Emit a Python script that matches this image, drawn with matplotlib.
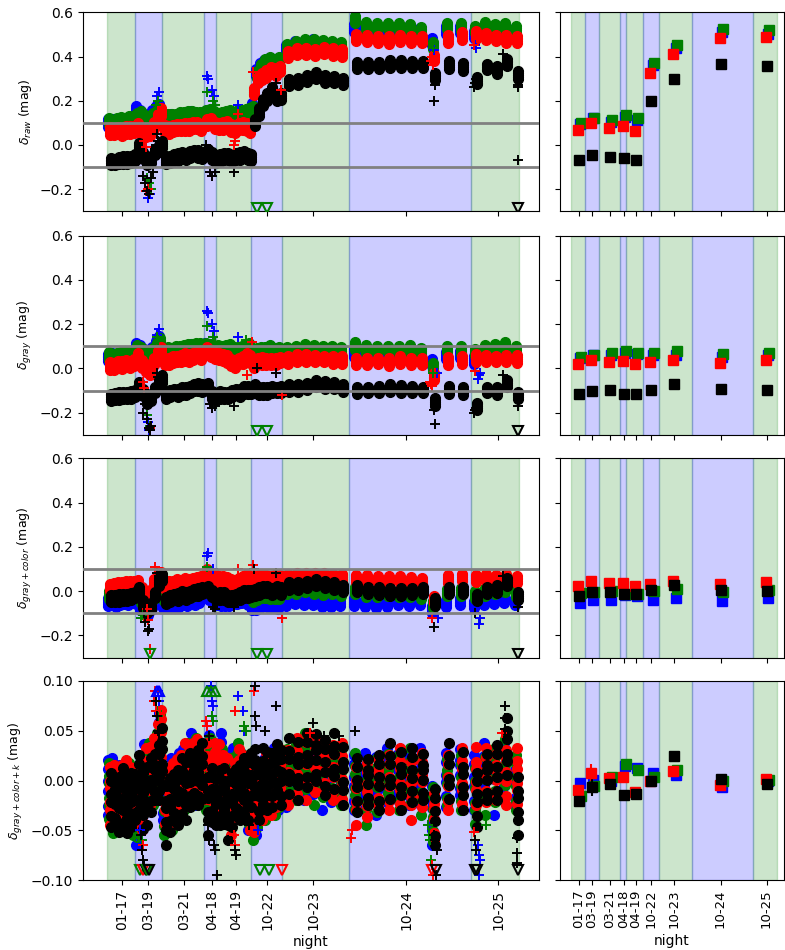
import matplotlib
matplotlib.use('Agg')
import matplotlib.pyplot as plt

# ---------------- nights / layout in "time" units ----------------
NIGHTS = ['01-17', '03-19', '03-21', '04-18', '04-19', '10-22', '10-23', '10-24', '10-25']
NIGHT_EDGES = [0, 28, 55, 97, 109, 144, 175, 242, 364, 412]
NIGHT_TICKS = [15, 41, 77, 105, 129, 160, 206, 299, 391]
NIGHT_SHADE = ['g', 'b', 'g', 'b', 'g', 'b', 'g', 'b', 'g']

# exposure times (per night: 7, 7, 10, 3, 9, 7, 7, 10, 5)
EXP_X = [2, 6, 10, 14, 18, 22, 26,
         30, 34, 38, 42, 46, 50, 53,
         57, 61, 65, 69, 73, 77, 81, 85, 89, 93,
         99, 103, 107,
         111, 115, 119, 123, 127, 131, 135, 139, 142,
         146, 150, 154, 158, 163, 168, 172,
         180, 189, 198, 207, 216, 225, 234,
         248, 259, 270, 281, 292, 303, 314, 326, 340, 354,
         368, 378, 388, 398, 409]

# residual patterns of the calibration stars within one exposure (mag)
STAR_RESID_TOP = [[-0.018, -0.009, 0.000, 0.008, 0.017],
                  [-0.015, -0.006, 0.003, 0.011, 0.019],
                  [-0.020, -0.011, -0.002, 0.006, 0.014],
                  [-0.016, -0.008, 0.001, 0.009, 0.016],
                  [-0.012, -0.005, 0.002, 0.010, 0.018]]
STAR_RESID_K = [[-0.030, -0.021, -0.006, 0.004, 0.017, 0.026],
                [-0.024, -0.010, -0.003, 0.012, 0.020, 0.033],
                [-0.035, -0.020, -0.012, 0.002, 0.009, 0.024],
                [-0.027, -0.016, -0.002, 0.006, 0.019, 0.028],
                [-0.020, -0.013, 0.001, 0.011, 0.016, 0.027]]

# ---------------- delta_raw ----------------
RAW_B = [0.100, 0.100, 0.095, 0.100, 0.100, 0.105, 0.110,
         0.160, 0.140, 0.120, 0.110, 0.140, 0.160, 0.170,
         0.115, 0.115, 0.120, 0.120, 0.125, 0.125, 0.130, 0.135, 0.130, 0.125,
         0.135, 0.140, 0.130,
         0.125, 0.125, 0.130, 0.135, 0.130, 0.135, 0.135, 0.140, 0.145,
         0.170, 0.330, 0.355, 0.365, 0.375, 0.370, 0.375,
         0.435, 0.450, 0.455, 0.460, 0.455, 0.445, 0.445,
         0.530, 0.525, 0.520, 0.520, 0.520, 0.520, 0.510, 0.470, 0.520, 0.520,
         0.500, 0.520, 0.520, 0.525, 0.510]
RAW_G = [0.105, 0.100, 0.105, 0.110, 0.105, 0.110, 0.115,
         0.130, 0.135, 0.120, 0.110, 0.130, 0.140, 0.150,
         0.120, 0.120, 0.125, 0.125, 0.130, 0.130, 0.135, 0.140, 0.135, 0.130,
         0.140, 0.145, 0.140,
         0.130, 0.130, 0.135, 0.140, 0.135, 0.140, 0.140, 0.145, 0.150,
         0.160, 0.320, 0.350, 0.370, 0.380, 0.375, 0.380,
         0.440, 0.455, 0.460, 0.465, 0.460, 0.450, 0.450,
         0.565, 0.540, 0.535, 0.535, 0.535, 0.530, 0.520, 0.450, 0.535, 0.535,
         0.520, 0.540, 0.530, 0.535, 0.520]
RAW_R = [0.065, 0.060, 0.065, 0.060, 0.065, 0.070, 0.070,
         0.080, 0.060, 0.050, 0.060, 0.090, 0.120, 0.150,
         0.070, 0.070, 0.075, 0.075, 0.080, 0.080, 0.085, 0.090, 0.085, 0.080,
         0.100, 0.110, 0.090,
         0.080, 0.085, 0.090, 0.080, 0.070, 0.080, 0.085, 0.080, 0.075,
         0.240, 0.290, 0.310, 0.320, 0.340, 0.330, 0.340,
         0.410, 0.420, 0.425, 0.420, 0.425, 0.420, 0.415,
         0.490, 0.480, 0.475, 0.475, 0.480, 0.480, 0.475, 0.390, 0.480, 0.490,
         0.500, 0.490, 0.480, 0.480, 0.475]
RAW_K = [-0.075, -0.080, -0.070, -0.070, -0.065, -0.065, -0.060,
         -0.010, -0.050, -0.070, -0.065, -0.035, -0.015, 0.000,
         -0.065, -0.065, -0.060, -0.055, -0.050, -0.050, -0.045, -0.040, -0.040, -0.050,
         -0.030, -0.050, -0.070,
         -0.060, -0.055, -0.050, -0.060, -0.055, -0.050, -0.045, -0.050, -0.055,
         0.100, 0.150, 0.190, 0.220, 0.245, 0.210, 0.220,
         0.280, 0.290, 0.300, 0.310, 0.300, 0.295, 0.290,
         0.360, 0.355, 0.360, 0.365, 0.370, 0.365, 0.360, 0.310, 0.360, 0.355,
         0.290, 0.350, 0.340, 0.370, 0.320]

# ---------------- delta_gray ----------------
GRAY_B = [0.050, 0.050, 0.050, 0.055, 0.055, 0.055, 0.060,
          0.100, 0.090, 0.070, 0.050, 0.080, 0.110, 0.130,
          0.070, 0.075, 0.075, 0.080, 0.080, 0.085, 0.085, 0.090, 0.095, 0.090,
          0.095, 0.090, 0.075,
          0.085, 0.080, 0.085, 0.085, 0.080, 0.075, 0.080, 0.085, 0.090,
          0.055, 0.060, 0.065, 0.065, 0.070, 0.065, 0.065,
          0.060, 0.065, 0.065, 0.065, 0.060, 0.060, 0.060,
          0.070, 0.065, 0.060, 0.060, 0.060, 0.060, 0.055, 0.030, 0.060, 0.060,
          0.040, 0.070, 0.075, 0.080, 0.070]
GRAY_G = [0.055, 0.050, 0.055, 0.055, 0.060, 0.060, 0.065,
          0.090, 0.080, 0.060, 0.050, 0.080, 0.100, 0.120,
          0.075, 0.080, 0.080, 0.085, 0.085, 0.090, 0.090, 0.095, 0.100, 0.095,
          0.100, 0.090, 0.080,
          0.090, 0.085, 0.090, 0.090, 0.085, 0.080, 0.085, 0.090, 0.095,
          0.060, 0.075, 0.080, 0.080, 0.085, 0.080, 0.080,
          0.080, 0.085, 0.090, 0.090, 0.085, 0.085, 0.080,
          0.100, 0.090, 0.085, 0.085, 0.085, 0.085, 0.080, 0.010, 0.085, 0.085,
          0.070, 0.090, 0.095, 0.100, 0.085]
GRAY_R = [0.015, 0.010, 0.015, 0.015, 0.020, 0.020, 0.025,
          0.050, 0.020, 0.000, -0.010, 0.030, 0.060, 0.080,
          0.030, 0.035, 0.040, 0.040, 0.045, 0.050, 0.050, 0.055, 0.060, 0.055,
          0.080, 0.070, 0.060,
          0.050, 0.050, 0.040, 0.030, 0.020, 0.030, 0.040, 0.050, 0.045,
          0.020, 0.030, 0.035, 0.030, 0.035, 0.030, 0.035,
          0.040, 0.045, 0.050, 0.045, 0.040, 0.040, 0.035,
          0.035, 0.030, 0.030, 0.030, 0.035, 0.035, 0.030, -0.040, 0.035, 0.035,
          0.050, 0.045, 0.040, 0.045, 0.040]
GRAY_K = [-0.130, -0.130, -0.125, -0.125, -0.120, -0.120, -0.115,
          -0.080, -0.110, -0.140, -0.130, -0.100, -0.070, -0.050,
          -0.120, -0.115, -0.110, -0.110, -0.105, -0.100, -0.095, -0.090, -0.085, -0.090,
          -0.080, -0.120, -0.130,
          -0.120, -0.125, -0.120, -0.115, -0.110, -0.110, -0.100, -0.095, -0.100,
          -0.090, -0.100, -0.105, -0.100, -0.095, -0.100, -0.095,
          -0.090, -0.085, -0.080, -0.070, -0.075, -0.080, -0.085,
          -0.100, -0.100, -0.095, -0.090, -0.090, -0.095, -0.100, -0.150, -0.100, -0.100,
          -0.170, -0.100, -0.100, -0.070, -0.120]

# ---------------- delta_gray+color ----------------
COL_B = [-0.050, -0.050, -0.050, -0.045, -0.045, -0.045, -0.040,
         -0.040, -0.070, -0.080, -0.090, -0.060, -0.030, -0.020,
         -0.065, -0.060, -0.060, -0.055, -0.055, -0.050, -0.050, -0.045, -0.045, -0.040,
         0.000, -0.020, -0.030,
         -0.045, -0.050, -0.055, -0.050, -0.045, -0.040, -0.040, -0.040, -0.045,
         -0.070, -0.065, -0.060, -0.055, -0.060, -0.055, -0.060,
         -0.050, -0.045, -0.045, -0.050, -0.050, -0.055, -0.055,
         -0.050, -0.055, -0.055, -0.055, -0.050, -0.050, -0.050, -0.080, -0.055, -0.050,
         -0.060, -0.050, -0.040, -0.040, -0.050]
COL_G = [-0.020, -0.020, -0.015, -0.015, -0.010, -0.010, -0.010,
         0.000, -0.040, -0.070, -0.060, -0.020, 0.030, 0.050,
         -0.025, -0.020, -0.020, -0.015, -0.015, -0.010, -0.010, -0.005, -0.005, 0.000,
         0.020, 0.000, -0.010,
         -0.010, -0.015, -0.020, -0.025, -0.020, -0.015, -0.010, -0.005, -0.010,
         -0.030, -0.025, -0.020, -0.015, -0.020, -0.015, -0.020,
         0.000, 0.005, 0.010, 0.005, 0.000, 0.000, -0.005,
         0.000, -0.005, -0.010, -0.010, -0.010, -0.010, -0.015, -0.060, -0.010, -0.005,
         -0.020, 0.000, 0.005, 0.010, -0.010]
COL_R = [0.020, 0.020, 0.025, 0.025, 0.025, 0.030, 0.030,
         0.030, 0.000, -0.020, -0.010, 0.040, 0.060, 0.070,
         0.025, 0.030, 0.030, 0.035, 0.035, 0.040, 0.040, 0.045, 0.045, 0.050,
         0.080, 0.070, 0.060,
         0.050, 0.050, 0.045, 0.040, 0.035, 0.040, 0.050, 0.060, 0.055,
         0.050, 0.055, 0.060, 0.055, 0.055, 0.060, 0.055,
         0.060, 0.065, 0.070, 0.065, 0.065, 0.060, 0.060,
         0.060, 0.055, 0.050, 0.050, 0.050, 0.050, 0.045, -0.040, 0.055, 0.060,
         0.060, 0.060, 0.055, 0.060, 0.050]
COL_K = [-0.035, -0.035, -0.030, -0.030, -0.025, -0.025, -0.020,
         0.000, -0.060, -0.080, -0.070, -0.020, 0.040, 0.060,
         -0.040, -0.035, -0.030, -0.025, -0.020, -0.020, -0.015, -0.010, -0.005, 0.000,
         0.010, -0.010, -0.030,
         -0.020, -0.025, -0.030, -0.035, -0.030, -0.020, -0.015, -0.010, -0.010,
         -0.010, 0.000, 0.005, 0.010, 0.000, 0.005, 0.000,
         0.020, 0.025, 0.030, 0.035, 0.030, 0.020, 0.015,
         0.010, 0.000, 0.000, -0.005, 0.000, 0.000, 0.000, -0.050, 0.000, 0.005,
         -0.030, 0.000, 0.010, 0.040, -0.020]

# ---------------- delta_gray+color+k ----------------
K_B = [-0.005, -0.010, -0.008, -0.012, -0.010, -0.015, -0.020,
       -0.030, -0.020, 0.010, 0.000, 0.005, 0.020, 0.040,
       -0.020, -0.015, -0.010, -0.005, 0.000, 0.005, 0.010, 0.015, 0.010, 0.005,
       0.010, 0.020, 0.000,
       0.010, 0.020, 0.000, -0.010, 0.000, 0.010, 0.000, -0.010, -0.020,
       -0.020, -0.020, -0.010, -0.005, 0.000, 0.000, 0.005,
       0.000, 0.005, 0.010, 0.010, 0.005, 0.005, 0.000,
       0.000, -0.005, 0.000, 0.005, 0.000, 0.005, 0.000, -0.030, 0.000, 0.005,
       0.000, 0.005, 0.000, 0.010, -0.005]
K_G = [-0.015, -0.018, -0.020, -0.020, -0.018, -0.015, -0.020,
       -0.030, -0.010, 0.000, 0.005, 0.010, 0.020, 0.040,
       -0.025, -0.020, -0.015, -0.010, -0.005, 0.000, 0.005, 0.010, 0.015, 0.010,
       0.000, 0.010, -0.005,
       0.000, 0.005, -0.005, -0.010, 0.000, 0.010, 0.000, -0.010, -0.020,
       -0.025, -0.020, -0.015, -0.010, -0.005, 0.000, 0.000,
       0.005, 0.010, 0.015, 0.010, 0.010, 0.005, 0.005,
       -0.005, -0.010, -0.005, 0.000, 0.000, 0.000, 0.000, -0.035, -0.005, 0.000,
       -0.020, 0.000, 0.005, 0.015, 0.000]
K_R = [-0.010, -0.012, -0.015, -0.010, -0.012, -0.010, -0.015,
       -0.025, -0.020, 0.000, 0.010, 0.015, 0.030, 0.045,
       -0.020, -0.015, -0.010, -0.005, 0.000, 0.005, 0.010, 0.010, 0.015, 0.010,
       0.005, 0.000, 0.010,
       0.010, 0.000, -0.010, -0.020, -0.010, 0.005, 0.000, -0.010, -0.015,
       -0.025, -0.020, -0.010, -0.005, 0.000, 0.000, 0.005,
       0.005, 0.010, 0.015, 0.015, 0.010, 0.010, 0.005,
       -0.010, -0.010, -0.005, 0.000, 0.000, -0.005, 0.000, -0.040, 0.000, 0.000,
       0.010, 0.005, 0.000, 0.005, 0.000]
K_K = [-0.020, -0.025, -0.022, -0.020, -0.018, -0.020, -0.020,
       0.000, -0.025, -0.010, -0.005, 0.000, 0.010, 0.020,
       -0.030, -0.025, -0.020, -0.015, -0.010, -0.005, 0.000, 0.000, 0.005, 0.005,
       -0.020, -0.015, -0.025,
       -0.015, -0.020, -0.025, -0.020, -0.015, -0.010, -0.010, -0.005, 0.000,
       0.005, -0.010, 0.000, 0.005, 0.000, 0.010, 0.005,
       0.010, 0.015, 0.020, 0.020, 0.015, 0.015, 0.010,
       -0.005, -0.005, 0.000, 0.005, 0.005, 0.005, 0.000, -0.035, 0.005, 0.005,
       -0.020, 0.000, 0.010, 0.030, -0.020]

# ---------------- flagged stars (+) : (band, time, value) ----------------
RAW_PLUS = [('k', 36, -0.14), ('k', 38, -0.17), ('k', 40, -0.21), ('k', 42, -0.22), ('k', 44, -0.15),
            ('k', 46, -0.12), ('b', 41, -0.24), ('b', 43, -0.22), ('g', 40, -0.15), ('g', 42, -0.17),
            ('g', 44, -0.20), ('r', 39, -0.21), ('r', 41, -0.20), ('r', 37, 0.02), ('r', 39, -0.01),
            ('b', 50, 0.22), ('b', 52, 0.24), ('g', 51, 0.20), ('g', 49, 0.18), ('k', 50, 0.05),
            ('k', 51, 0.02), ('k', 49, 0.0),
            ('b', 100, 0.31), ('b', 101, 0.30), ('g', 100, 0.24), ('b', 105, 0.25), ('b', 107, 0.22),
            ('g', 106, 0.20), ('g', 108, 0.18), ('k', 99, 0.0), ('k', 103, -0.12), ('k', 105, -0.14),
            ('k', 108, -0.12),
            ('k', 127, -0.12), ('r', 127, 0.0), ('r', 128, 0.02), ('b', 131, 0.18), ('g', 135, 0.16),
            ('r', 131, 0.14),
            ('r', 146, 0.33), ('k', 169, 0.28), ('r', 174, 0.25),
            ('r', 324, 0.38), ('r', 325, 0.40), ('r', 326, 0.36), ('k', 327, 0.20), ('k', 328, 0.27),
            ('k', 329, 0.30), ('g', 326, 0.44), ('b', 327, 0.43),
            ('b', 368, 0.45), ('b', 369, 0.44), ('r', 367, 0.45), ('k', 367, 0.26), ('k', 368, 0.28),
            ('k', 369, 0.30), ('k', 370, 0.27), ('k', 396, 0.41), ('k', 411, -0.07), ('k', 411, 0.26),
            ('k', 411, 0.27)]
GRAY_PLUS = [('k', 36, -0.20), ('k', 38, -0.16), ('k', 40, -0.23), ('k', 42, -0.27), ('k', 43, -0.28),
             ('k', 44, -0.26), ('b', 41, -0.24), ('b', 42, -0.28), ('g', 40, -0.21), ('g', 43, -0.26),
             ('r', 36, -0.06), ('r', 37, -0.09), ('r', 43, -0.27),
             ('b', 50, 0.15), ('b', 52, 0.18), ('g', 50, 0.14), ('g', 51, 0.13), ('k', 50, -0.02),
             ('k', 51, -0.04),
             ('b', 100, 0.26), ('b', 101, 0.25), ('g', 100, 0.19), ('b', 105, 0.20), ('b', 107, 0.17),
             ('g', 106, 0.14), ('g', 108, 0.12), ('k', 103, -0.16), ('k', 105, -0.18), ('k', 108, -0.17),
             ('k', 127, -0.17), ('b', 131, 0.14), ('g', 139, 0.13), ('r', 145, 0.12), ('r', 140, -0.03),
             ('k', 150, 0.0), ('k', 169, -0.02), ('r', 175, -0.12),
             ('r', 323, -0.06), ('r', 324, -0.07), ('r', 325, -0.08), ('k', 327, -0.19), ('k', 328, -0.25),
             ('k', 329, -0.14), ('g', 326, -0.02), ('b', 330, -0.02),
             ('b', 371, -0.05), ('b', 372, -0.03), ('b', 373, -0.02), ('k', 367, -0.20), ('k', 368, -0.19),
             ('k', 369, -0.18), ('r', 368, -0.01), ('k', 396, -0.03), ('k', 411, -0.17)]
COL_PLUS = [('g', 34, -0.12), ('g', 36, -0.11), ('k', 37, -0.10), ('k', 38, -0.14), ('k', 41, -0.18),
            ('k', 42, -0.17), ('r', 40, -0.08), ('r', 43, -0.26), ('r', 41, -0.13), ('r', 48, 0.11),
            ('k', 50, 0.08), ('k', 52, 0.07),
            ('b', 100, 0.16), ('b', 101, 0.17), ('g', 100, 0.11), ('b', 106, 0.10), ('k', 106, -0.07),
            ('k', 108, -0.08),
            ('k', 127, -0.07), ('r', 131, 0.10), ('r', 146, 0.12), ('k', 147, 0.10),
            ('k', 169, 0.08), ('r', 175, -0.12),
            ('r', 325, -0.12), ('k', 327, -0.16), ('b', 331, -0.12),
            ('b', 372, -0.15), ('b', 373, -0.12), ('k', 368, -0.10), ('k', 396, 0.07), ('k', 411, -0.07)]
K_PLUS = [('b', 33, -0.05), ('b', 34, -0.06), ('k', 34, -0.055), ('k', 35, -0.07), ('k', 36, -0.08),
          ('k', 37, -0.085), ('r', 35, -0.07), ('r', 36, -0.065), ('g', 35, -0.06),
          ('r', 47, 0.08), ('r', 48, 0.09), ('r', 49, 0.07), ('g', 49, 0.08), ('g', 50, 0.07),
          ('g', 51, 0.065), ('b', 51, 0.09), ('b', 52, 0.08), ('k', 49, 0.08), ('k', 50, 0.065),
          ('k', 51, 0.05), ('k', 52, 0.048),
          ('r', 99, 0.06), ('r', 100, 0.055), ('b', 104, 0.095), ('b', 105, 0.08), ('b', 106, 0.075),
          ('g', 105, 0.065), ('g', 106, 0.06), ('k', 102, 0.045), ('k', 101, -0.045), ('k', 102, -0.06),
          ('k', 107, -0.065), ('k', 108, -0.07), ('k', 110, -0.095),
          ('r', 128, 0.07), ('b', 131, 0.085), ('k', 128, -0.07), ('k', 129, -0.075), ('r', 127, -0.055),
          ('r', 128, -0.065), ('b', 136, 0.07), ('b', 137, 0.05), ('g', 137, 0.055), ('g', 139, 0.05),
          ('k', 148, 0.095), ('k', 148, 0.065), ('k', 149, 0.055), ('r', 147, 0.09), ('k', 142, -0.045),
          ('b', 151, -0.05),
          ('k', 169, 0.075), ('k', 158, 0.05),
          ('k', 206, 0.058), ('r', 203, 0.048), ('k', 217, 0.045), ('k', 232, 0.045), ('k', 248, 0.05),
          ('r', 244, -0.058), ('r', 245, -0.05), ('g', 321, -0.045), ('g', 322, -0.055), ('g', 323, -0.06),
          ('g', 324, -0.08), ('r', 325, -0.085), ('r', 326, -0.095), ('k', 327, -0.055), ('k', 328, -0.06),
          ('k', 329, -0.065), ('k', 330, -0.07), ('k', 329, -0.095),
          ('b', 371, -0.065), ('b', 372, -0.075), ('b', 373, -0.08), ('b', 372, -0.095), ('k', 368, -0.06),
          ('k', 369, -0.07), ('r', 367, -0.052), ('g', 379, -0.045), ('k', 398, 0.075), ('k', 398, 0.063),
          ('k', 398, 0.052), ('r', 395, 0.048), ('k', 410, -0.058), ('k', 410, -0.073), ('k', 410, -0.083)]

# ---------------- off-scale markers: (band, time, direction) ----------------
RAW_TRI = [('g', 150, 'v'), ('g', 160, 'v'), ('k', 411, 'v')]
GRAY_TRI = [('g', 150, 'v'), ('g', 160, 'v'), ('k', 411, 'v')]
COL_TRI = [('g', 43, 'v'), ('g', 150, 'v'), ('g', 160, 'v'), ('k', 411, 'v')]
K_TRI = [('g', 33, 'v'), ('r', 36, 'v'), ('k', 39, 'v'), ('g', 40, 'v'), ('k', 42, 'v'),
         ('b', 50, '^'), ('b', 52, '^'), ('g', 100, '^'), ('g', 104, '^'), ('g', 108, '^'),
         ('g', 153, 'v'), ('g', 162, 'v'), ('r', 175, 'v'), ('r', 325, 'v'), ('k', 329, 'v'),
         ('k', 368, 'v'), ('k', 370, 'v'), ('k', 411, 'v')]

# ---------------- nightly medians (right column) ----------------
MED_RAW = {'b': [0.095, 0.120, 0.105, 0.125, 0.115, 0.360, 0.440, 0.510, 0.500],
           'g': [0.099, 0.120, 0.114, 0.134, 0.120, 0.370, 0.450, 0.523, 0.520],
           'r': [0.066, 0.100, 0.077, 0.087, 0.065, 0.325, 0.410, 0.483, 0.487],
           'k': [-0.068, -0.044, -0.054, -0.059, -0.068, 0.200, 0.300, 0.364, 0.358]}
MED_GRAY = {'b': [0.045, 0.060, 0.060, 0.070, 0.065, 0.059, 0.059, 0.051, 0.059],
            'g': [0.051, 0.060, 0.069, 0.078, 0.071, 0.068, 0.077, 0.066, 0.071],
            'r': [0.018, 0.039, 0.030, 0.033, 0.018, 0.027, 0.039, 0.024, 0.036],
            'k': [-0.116, -0.102, -0.099, -0.114, -0.114, -0.098, -0.069, -0.093, -0.099]}
MED_COL = {'b': [-0.053, -0.038, -0.040, -0.018, -0.020, -0.038, -0.033, -0.044, -0.033],
           'g': [-0.010, -0.006, 0.000, -0.012, -0.012, 0.000, 0.009, -0.003, 0.003],
           'r': [0.024, 0.045, 0.036, 0.036, 0.023, 0.032, 0.045, 0.030, 0.042],
           'k': [-0.020, -0.006, -0.002, -0.014, -0.014, 0.003, 0.027, 0.006, 0.002]}
MED_K = {'b': [-0.003, 0.001, 0.000, 0.015, 0.013, 0.008, 0.006, -0.007, -0.001],
         'g': [-0.016, -0.006, 0.004, 0.017, 0.011, 0.004, 0.011, -0.001, 0.001],
         'r': [-0.010, 0.008, 0.003, 0.004, -0.012, 0.000, 0.010, -0.005, 0.002],
         'k': [-0.021, -0.007, -0.004, -0.015, -0.014, -0.001, 0.025, 0.002, -0.004]}
ERR_K = {'b': [0.002] * 9,
         'g': [0.002] * 9,
         'r': [0.002, 0.009, 0.002, 0.002, 0.002, 0.002, 0.002, 0.002, 0.002],
         'k': [0.002, 0.009, 0.002, 0.002, 0.002, 0.002, 0.002, 0.002, 0.002]}

YLABELS = [r'$\delta_{raw}$ (mag)', r'$\delta_{gray}$ (mag)',
           r'$\delta_{gray+color}$ (mag)', r'$\delta_{gray+color+k}$ (mag)']

# ---------------- styling ----------------
BANDS = ['b', 'g', 'r', 'k']
BAND_DX = {'b': -1.5, 'g': -0.5, 'r': 0.5, 'k': 1.5}
MED_DX = {'b': 3, 'g': 5, 'r': -2, 'k': 0}

plt.rcParams['font.family'] = ['DejaVu Sans']
plt.rcParams['font.size'] = 10

W, H = 785.0, 950.0
fig = plt.figure(figsize=(W / 100, H / 100), dpi=100)
ROWS = [(12.3, 211.3), (235.7, 434.8), (458.3, 657.5), (681.0, 880.0)]
LEFT_PX = (83.0, 539.0)
RIGHT_PX = (560.0, 784.0)


def make_ax(xp, yp):
    return fig.add_axes([xp[0] / W, 1 - yp[1] / H, (xp[1] - xp[0]) / W, (yp[1] - yp[0]) / H])


def shade(ax):
    for i in range(len(NIGHTS)):
        ax.axvspan(NIGHT_EDGES[i], NIGHT_EDGES[i + 1], color=NIGHT_SHADE[i], alpha=0.2, lw=1, zorder=0)


panels = [
    ({'b': RAW_B, 'g': RAW_G, 'r': RAW_R, 'k': RAW_K}, RAW_PLUS, RAW_TRI, MED_RAW, None, STAR_RESID_TOP),
    ({'b': GRAY_B, 'g': GRAY_G, 'r': GRAY_R, 'k': GRAY_K}, GRAY_PLUS, GRAY_TRI, MED_GRAY, None, STAR_RESID_TOP),
    ({'b': COL_B, 'g': COL_G, 'r': COL_R, 'k': COL_K}, COL_PLUS, COL_TRI, MED_COL, None, STAR_RESID_TOP),
    ({'b': K_B, 'g': K_G, 'r': K_R, 'k': K_K}, K_PLUS, K_TRI, MED_K, ERR_K, STAR_RESID_K),
]

for row, (vals, plus, tris, med, err, resid) in enumerate(panels):
    bottom = row == 3
    if bottom:
        ylim = (-0.10, 0.10)
        yticks = [-0.10, -0.05, 0.00, 0.05, 0.10]
        tri_lo, tri_hi = -0.0895, 0.0895
    else:
        ylim = (-0.3, 0.6)
        yticks = [-0.2, 0.0, 0.2, 0.4, 0.6]
        tri_lo, tri_hi = -0.284, 0.584

    axl = make_ax(LEFT_PX, ROWS[row])
    axr = make_ax(RIGHT_PX, ROWS[row])

    # ---- left: every star of every exposure ----
    shade(axl)
    for bi, band in enumerate(BANDS):
        xs, ys = [], []
        for i, x in enumerate(EXP_X):
            for r in resid[(i + bi) % len(resid)]:
                xs.append(x + BAND_DX[band])
                ys.append(vals[band][i] + r)
        axl.plot(xs, ys, 'o', color=band, ms=7, mew=1, zorder=2 + bi * 0.1)
    for band in BANDS:
        px = [p[1] for p in plus if p[0] == band]
        py = [p[2] for p in plus if p[0] == band]
        axl.plot(px, py, '+', color=band, ms=7, mew=1.4, zorder=3)
    for band, x, d in tris:
        axl.plot([x], [tri_lo if d == 'v' else tri_hi], d, color=band, ms=7, mew=1.5,
                 mfc='none', zorder=4)
    if not bottom:
        axl.axhline(0.1, color='gray', lw=2, zorder=5)
        axl.axhline(-0.1, color='gray', lw=2, zorder=5)
    axl.set_xlim(LEFT_PX[0] - 107, LEFT_PX[1] - 107)
    axl.set_ylim(*ylim)
    axl.set_yticks(yticks)
    axl.set_xticks(NIGHT_TICKS)
    axl.set_ylabel(YLABELS[row], fontsize=9)

    # ---- right: nightly medians ----
    shade(axr)
    for bi, band in enumerate(BANDS):
        xs = [t + MED_DX[band] for t in NIGHT_TICKS]
        if err is not None:
            axr.errorbar(xs, med[band], yerr=err[band], fmt='s', color=band, ms=7,
                         elinewidth=1.5, capsize=0, zorder=2 + bi * 0.1)
        else:
            axr.plot(xs, med[band], 's', color=band, ms=7, zorder=2 + bi * 0.1)
    axr.set_xlim((RIGHT_PX[0] - 571) * 2, (RIGHT_PX[1] - 571) * 2)
    axr.set_ylim(*ylim)
    axr.set_yticks(yticks)
    axr.set_yticklabels([])
    axr.set_xticks(NIGHT_TICKS)

    if bottom:
        axl.set_xticklabels(NIGHTS, rotation=90)
        axr.set_xticklabels(NIGHTS, rotation=90, fontsize=9.5)
        axl.set_xlabel('night', fontsize=10)
        axr.set_xlabel('night', fontsize=10)
    else:
        axl.set_xticklabels([])
        axr.set_xticklabels([])

fig.savefig('out.png', dpi=100)
